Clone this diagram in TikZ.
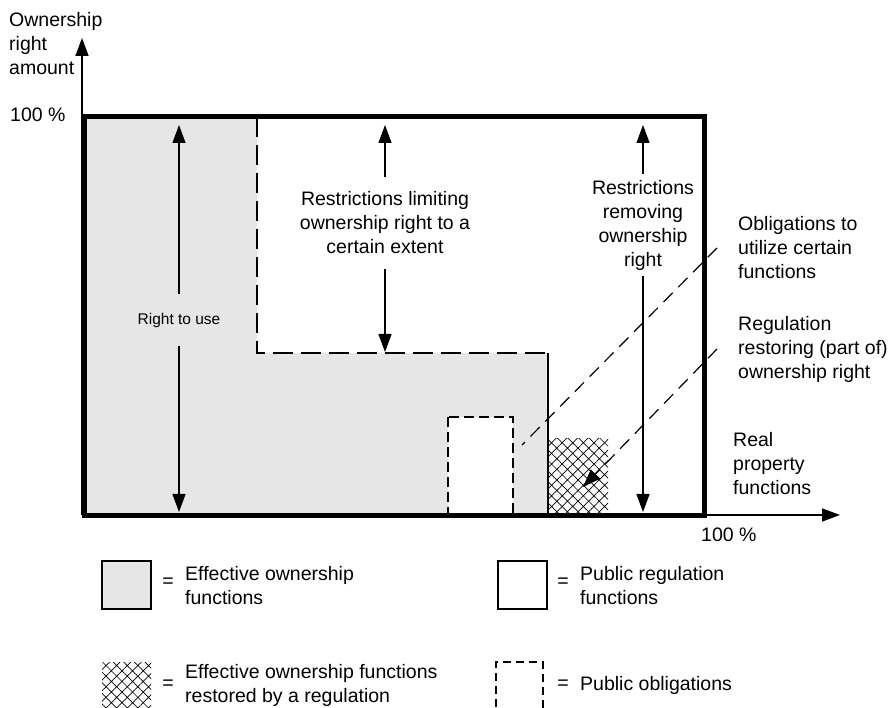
\documentclass[tikz,border=0pt]{standalone}
\usepackage{fontspec}
\setmainfont{Liberation Sans}
\usetikzlibrary{arrows.meta,patterns.meta}
\definecolor{ownergray}{RGB}{230,230,230}

\begin{document}
\begin{tikzpicture}[x=1pt,y=-1pt,
    lbl/.style={font=\fontsize{19.5}{24}\selectfont, align=center, inner sep=0pt},
    lbll/.style={font=\fontsize{19.5}{24}\selectfont, align=left, inner sep=0pt, anchor=west},
    legtxt/.style={font=\fontsize{19.5}{24}\selectfont, align=left, inner sep=0pt, anchor=west},
    arr/.style={-{Triangle[length=18pt,width=13pt]}, line width=1.2pt},
    dsh/.style={dash pattern=on 20pt off 8pt, line width=1.2pt},
    lead/.style={dash pattern=on 13pt off 8pt, line width=1.2pt},
    hatch/.style={pattern={Hatch[angle=45,distance=7.5pt,line width=0.7pt]}},
    legbox/.style={draw, line width=2pt, minimum width=49pt, minimum height=48pt, inner sep=0pt}
]
    \useasboundingbox (0,0) rectangle (892,708);

    % corners of the diagram
    \coordinate (tl) at (84,117);
    \coordinate (br) at (704,515);
    \coordinate (topin) at (84,125);
    \coordinate (stepin) at (84,352);
    \coordinate (botin) at (84,512);

    % effective ownership area
    \fill[ownergray] (84,117) -- (257,117) -- (257,353) -- (548,353) -- (548,515) -- (84,515) -- cycle;
    \draw[dsh] (257,117) -- (257,353) -- (548,353);
    \draw[line width=1.2pt] (548,353) -- (548,515);

    % public obligation and restored part
    \draw[fill=white, dash pattern=on 10pt off 5pt, line width=1.2pt] (448,417) rectangle (513,515);
    \node[hatch, minimum width=60pt, minimum height=76pt, inner sep=0pt] (rest) at (578,477) {};
    \coordinate (obl) at (522,445);

    % axes and frame
    \draw[-{Triangle[length=18pt,width=13pt]}, line width=1.5pt] (82,515) -- (82,38);
    \draw[-{Triangle[length=18pt,width=13pt]}, line width=1.5pt] (br) -- (840,515);
    \draw[line width=5pt] (tl) rectangle (br);

    % axis labels
    \node[lbll] (yname) at (9,44) {Ownership\\right\\amount};
    \node[lbll] (ytop) at (10,115) {100 \%};
    \node[lbll] (xname) at (733,464) {Real\\property\\functions};
    \node[lbll] (xend) at (701,535) {100 \%};

    % right to use
    \node[lbl, font=\fontsize{15.5}{19}\selectfont, inner ysep=19pt] (use) at (179,320) {Right to use};
    \draw[arr] (use) -- (use |- topin);
    \draw[arr] (use) -- (use |- botin);

    % restrictions limiting
    \node[lbl, inner ysep=15pt] (limit) at (385,223) {Restrictions limiting\\ownership right to a\\certain extent};
    \draw[arr] (limit) -- (limit |- topin);
    \draw[arr] (limit) -- (limit |- stepin);

    % restrictions removing
    \node[lbl, inner ysep=6pt] (remove) at (643,225) {Restrictions\\removing\\ownership\\right};
    \draw[arr] (remove) -- (remove |- topin);
    \draw[arr] (remove) -- (remove |- botin);

    % obligations and regulation
    \node[lbll] (oblig) at (738,248) {Obligations to\\utilize certain\\functions};
    \draw[lead] ([xshift=-21pt]oblig.west) -- (obl);
    \node[lbll] (regul) at (738,349) {Regulation\\restoring (part of)\\ownership right};
    \draw[lead, -{Triangle[length=18pt,width=13pt]}] ([xshift=-21pt]regul.west) -- ([xshift=5pt,yshift=-10pt]rest.center);

    % legend
    \node[legbox, fill=ownergray] (leff) at (126.5,585) {};
    \node[lbl] (leffeq) at (168,583) {=};
    \node[legtxt] (lefftxt) at (185,586) {Effective ownership\\functions};

    \node[legbox, fill=white] (lpub) at (522.5,585) {};
    \node[lbl] (lpubeq) at (563,583) {=};
    \node[legtxt] (lpubtxt) at (580,586) {Public regulation\\functions};

    \node[hatch, minimum width=49pt, minimum height=50pt, inner sep=0pt] (lres) at (126.5,687) {};
    \node[lbl] (lreseq) at (168,685) {=};
    \node[legtxt] (lrestxt) at (185,685) {Effective ownership functions\\restored by a regulation};

    \draw[dash pattern=on 8pt off 5pt, line width=1.2pt] (496,720) -- (496,662) -- (543,662) -- (543,720);
    \node[lbl] (lobleq) at (563,685) {=};
    \node[lbll] (lobltxt) at (580,685) {Public obligations};
\end{tikzpicture}
\end{document}
